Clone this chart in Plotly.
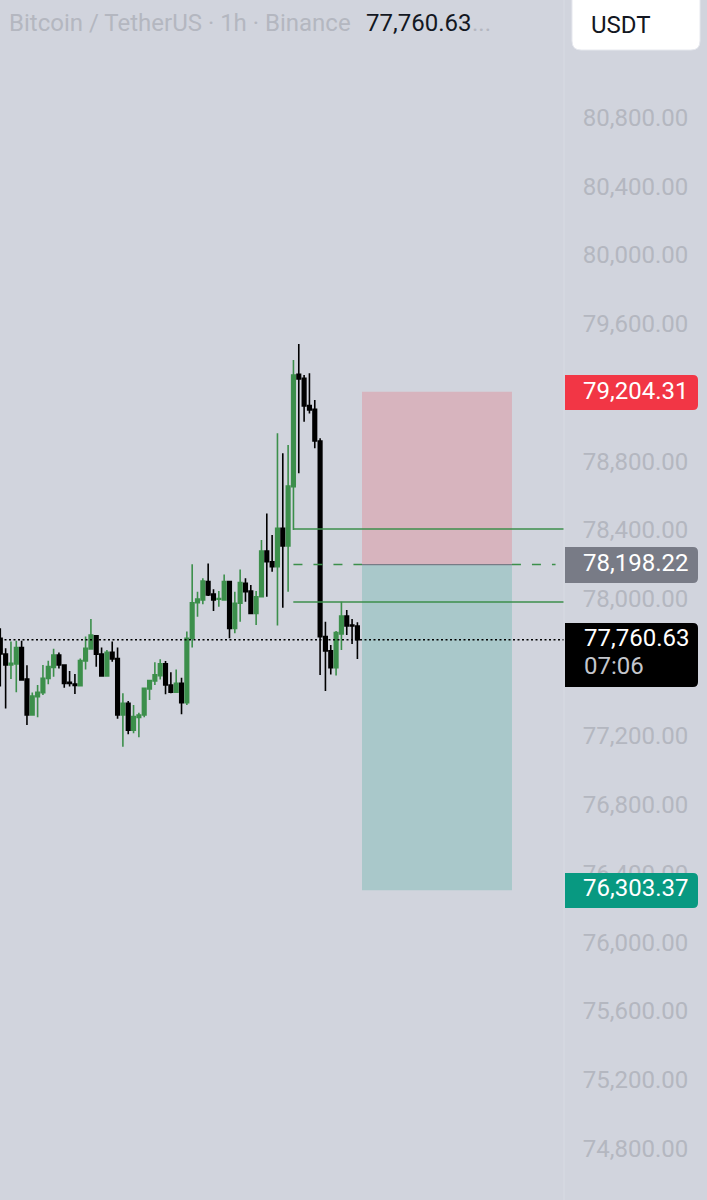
import plotly.graph_objects as go

# --- hourly candles ---
opens = [77769, 77678, 77614, 77620, 77715, 77532, 77323, 77429, 77453, 77536, 77600, 77672, 77614, 77513,
         77503, 77493, 77637, 77707, 77784, 77678, 77550, 77687, 77651, 77323, 77391, 77235, 77309, 77323,
         77474, 77521, 77552, 77620, 77497, 77455, 77507, 77394, 77769, 77976, 77992, 78099, 78027, 77996,
         77992, 78099, 77827, 77973, 78089, 78044, 77914, 78011, 78277, 78215, 78186, 78409, 78306, 78652,
         79305, 79282, 79123, 79102, 78917, 77779, 77697, 77598, 77794, 77899, 77846, 77841]
highs = [77827, 77711, 77750, 77755, 77755, 77612, 77453, 77497, 77614, 77639, 77709, 77687, 77614, 77579,
         77561, 77652, 77779, 77881, 77788, 77715, 77701, 77750, 77715, 77449, 77404, 77381, 77336, 77478,
         77526, 77629, 77647, 77637, 77571, 77588, 77540, 77808, 78200, 78040, 78118, 78205, 78054, 78044,
         78141, 78099, 78040, 78170, 78118, 78079, 78044, 78341, 78496, 78370, 78962, 78846, 78894, 79389,
         79482, 79301, 79311, 79156, 78933, 77866, 77730, 77812, 77982, 77934, 77881, 77862]
lows = [77488, 77361, 77532, 77455, 77526, 77264, 77323, 77309, 77439, 77501, 77546, 77594, 77482, 77488,
        77445, 77488, 77588, 77705, 77604, 77550, 77550, 77633, 77301, 77138, 77210, 77216, 77193, 77309,
        77410, 77497, 77530, 77443, 77449, 77453, 77327, 77381, 77715, 77895, 77967, 78015, 77928, 77953,
        77992, 77769, 77798, 77866, 77982, 77914, 77846, 78011, 78011, 78157, 77843, 77947, 78040, 78399,
        78729, 79030, 79078, 78875, 77555, 77462, 77559, 77552, 77701, 77788, 77736, 77649]
closes = [77678, 77614, 77623, 77715, 77526, 77323, 77433, 77455, 77536, 77604, 77672, 77614, 77507, 77507,
          77495, 77639, 77711, 77788, 77676, 77550, 77687, 77649, 77323, 77391, 77235, 77313, 77323, 77478,
          77523, 77556, 77620, 77497, 77455, 77507, 77394, 77769, 77976, 77998, 78103, 78021, 77992, 78000,
          78099, 77827, 77973, 78093, 78040, 77914, 78011, 78277, 78215, 78186, 78409, 78306, 78655, 79301,
          79278, 79121, 79098, 78917, 77779, 77695, 77598, 77802, 77899, 77841, 77841, 77761]
bars = list(range(len(opens)))

price_ticks = [80800, 80400, 80000, 79600, 78800, 78400, 78000, 77200, 76800, 76400, 76000, 75600, 75200, 74800]

last_price = 77760.63
entry_price = 78198.22
stop_price = 79204.31
target_price = 76303.37
upper_level = 78405
lower_level = 77980
box_start = 67.86
box_end = 96.0
level_start = 55.0

# colours
BG = "#d1d4dd"
GREEN = "#3c8f4b"
AXIS_TEXT = "#b4b7c0"
FONT = "Roboto"
FONT_SIZE = 24

# figure is pinned to the window, plot area stops where the price scale starts
W, H = 707, 1200
PLOT_W = 564


def px_x(x):
    return x / PLOT_W


def px_y(y):
    return 1 - y / H


def label_path(x0, y0, x1, y1, r=5):
    # square on the left, rounded on the right (price tags)
    return (f"M {px_x(x0)} {px_y(y0)} L {px_x(x1 - r)} {px_y(y0)} "
            f"Q {px_x(x1)} {px_y(y0)} {px_x(x1)} {px_y(y0 + r)} "
            f"L {px_x(x1)} {px_y(y1 - r)} Q {px_x(x1)} {px_y(y1)} {px_x(x1 - r)} {px_y(y1)} "
            f"L {px_x(x0)} {px_y(y1)} Z")


def button_path(x0, y0, x1, y1, r=9):
    return (f"M {px_x(x0)} {px_y(y0)} L {px_x(x1)} {px_y(y0)} "
            f"L {px_x(x1)} {px_y(y1 - r)} Q {px_x(x1)} {px_y(y1)} {px_x(x1 - r)} {px_y(y1)} "
            f"L {px_x(x0 + r)} {px_y(y1)} Q {px_x(x0)} {px_y(y1)} {px_x(x0)} {px_y(y1 - r)} Z")


fig = go.Figure(go.Candlestick(
    x=bars, open=opens, high=highs, low=lows, close=closes,
    whiskerwidth=0,
    increasing=dict(line=dict(color=GREEN, width=1.6), fillcolor=GREEN),
    decreasing=dict(line=dict(color="#000000", width=1.6), fillcolor="#000000"),
    hoverinfo="skip",
))

# short position box
fig.add_shape(type="rect", x0=box_start, x1=box_end, y0=entry_price, y1=stop_price,
              fillcolor="rgba(242,54,69,0.2)", line_width=0, layer="below")
fig.add_shape(type="rect", x0=box_start, x1=box_end, y0=target_price, y1=entry_price,
              fillcolor="rgba(8,153,129,0.2)", line_width=0, layer="below")
fig.add_shape(type="line", x0=box_start, x1=box_end, y0=entry_price, y1=entry_price,
              line=dict(color="#787b86", width=1.2))

# green levels drawn from the spike candle
for level in [upper_level, lower_level]:
    fig.add_shape(type="line", xref="x domain", x0=level_start / 105.76, x1=1, y0=level, y1=level,
                  line=dict(color=GREEN, width=1.4))
fig.add_shape(type="line", x0=level_start, x1=box_start, y0=entry_price, y1=entry_price,
              line=dict(color=GREEN, width=1.4, dash="9px 11px"))
fig.add_shape(type="line", xref="x domain", x0=box_end / 105.76, x1=0.985, y0=entry_price, y1=entry_price,
              line=dict(color=GREEN, width=1.4, dash="9px 11px"))

# last price line
fig.add_shape(type="line", xref="x domain", x0=0, x1=1, y0=last_price, y1=last_price,
              line=dict(color="#000000", width=1.7, dash="2px 2.5px"))
# scale border
fig.add_shape(type="line", xref="paper", yref="paper", x0=1, x1=1, y0=0, y1=1,
              line=dict(color="#d8dbe3", width=1))

# tags on the price scale
tags = [
    (375, 410, "#f23645", f"{stop_price:,.2f}"),
    (547, 583, "#787b86", f"{entry_price:,.2f}"),
    (873, 908, "#089981", f"{target_price:,.2f}"),
]
for top, bottom, color, text in tags:
    fig.add_shape(type="path", xref="paper", yref="paper", path=label_path(565, top, 698, bottom),
                  fillcolor=color, line_width=0, layer="above")
    fig.add_annotation(xref="paper", yref="paper", x=px_x(582), y=px_y((top + bottom) / 2 - 2), text=text,
                       xanchor="left", yanchor="middle", showarrow=False, borderpad=0,
                       font=dict(family=FONT, size=FONT_SIZE, color="#ffffff"))

fig.add_shape(type="path", xref="paper", yref="paper", path=label_path(565, 623, 698, 687),
              fillcolor="#000000", line_width=0, layer="above")
fig.add_annotation(xref="paper", yref="paper", x=px_x(582), y=px_y(638), text=f"{last_price:,.2f}",
                   xanchor="left", yanchor="middle", showarrow=False,
                   font=dict(family=FONT, size=FONT_SIZE, color="#ffffff"))
fig.add_annotation(xref="paper", yref="paper", x=px_x(582), y=px_y(666), text="07:06",
                   xanchor="left", yanchor="middle", showarrow=False,
                   font=dict(family=FONT, size=FONT_SIZE, color="#c4c6cc"))

# currency button
fig.add_shape(type="path", xref="paper", yref="paper", path=button_path(572, -5, 700, 50),
              fillcolor="#ffffff", line=dict(color="#e6e8ee", width=1), layer="above")
fig.add_annotation(xref="paper", yref="paper", x=px_x(589), y=px_y(25), text="USDT",
                   xanchor="left", yanchor="middle", showarrow=False,
                   font=dict(family=FONT, size=FONT_SIZE, color="#131722"))

# header
header = [
    (7, "Bitcoin / TetherUS · 1h · Binance", AXIS_TEXT),
    (364, f"{last_price:,.2f}", "#131722"),
    (470, "...", AXIS_TEXT),
]
for left, text, color in header:
    fig.add_annotation(xref="paper", yref="paper", x=px_x(left), y=px_y(23), text=text,
                       xanchor="left", yanchor="middle", showarrow=False,
                       font=dict(family=FONT, size=FONT_SIZE, color=color))

fig.update_layout(
    width=W, height=H,
    margin=dict(l=0, r=W - PLOT_W, t=0, b=0),
    paper_bgcolor=BG, plot_bgcolor=BG,
    showlegend=False,
    boxgap=0.05,
    hovermode=False,
)
fig.update_xaxes(range=[-0.056, 105.76], visible=False, rangeslider_visible=False, fixedrange=True)
fig.update_yaxes(
    range=[74500.2, 81483.8], side="right", showgrid=False, zeroline=False, showline=False,
    tickmode="array", tickvals=price_ticks, ticktext=[f"{p:,.2f}" for p in price_ticks],
    ticks="outside", ticklen=13, tickcolor=BG, tickwidth=0,
    tickfont=dict(family=FONT, size=FONT_SIZE, color=AXIS_TEXT), fixedrange=True,
)

fig.write_html("out.html", config=dict(displayModeBar=False),
               post_script="document.body.style.margin='0';")
